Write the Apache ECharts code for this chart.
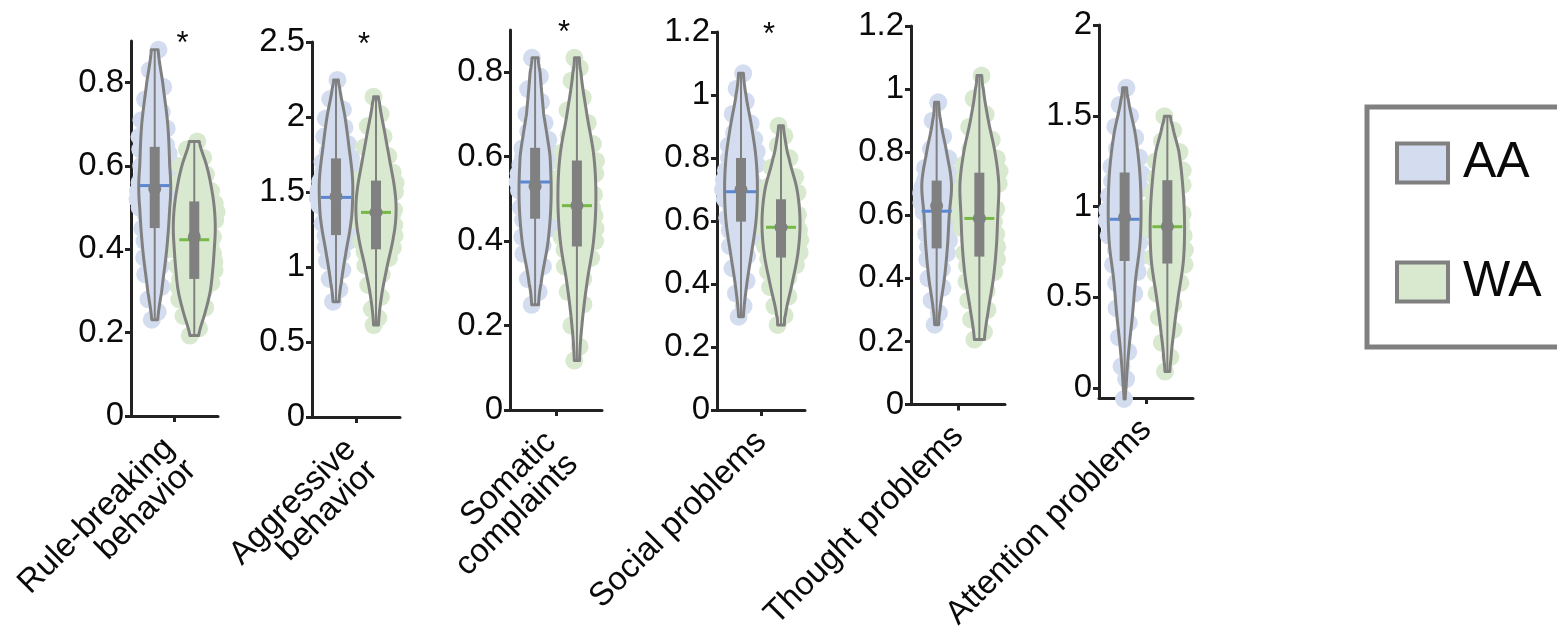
<!DOCTYPE html>
<html><head><meta charset="utf-8">
<script src="https://cdn.jsdelivr.net/npm/echarts@6/dist/echarts.min.js"></script>
<style>html,body{margin:0;padding:0;background:#fff}#c{width:1557px;height:633px}</style>
</head><body><div id="c"></div>
<script>
// ---------------- DATA ----------------
const categories = ['Rule-breaking\nbehavior','Aggressive\nbehavior','Somatic\ncomplaints','Social problems','Thought problems','Attention problems'];
const groups = ['AA','WA'];
const significant = [true,true,true,true,false,false];
const yMinVals = [0,0,0,0,0,-0.055];
const yMaxVals = [0.9,2.5,0.9,1.2,1.2,2];
const yTickLabels = [
  [0,0.2,0.4,0.6,0.8],
  [0,0.5,1,1.5,2,2.5],
  [0,0.2,0.4,0.6,0.8],
  [0,0.2,0.4,0.6,0.8,1,1.2],
  [0,0.2,0.4,0.6,0.8,1,1.2],
  [0,0.5,1,1.5,2]
];

const aaMin    = [0.231,0.769,0.249,0.296,0.253,-0.06];
const aaQ1     = [0.451,1.213,0.453,0.598,0.495,0.70];
const aaMedian = [0.553,1.464,0.540,0.693,0.613,0.930];
const aaQ3     = [0.646,1.724,0.621,0.800,0.710,1.188];
const aaMax    = [0.879,2.247,0.834,1.069,0.958,1.654];
const aaMean   = [0.545,1.470,0.530,0.700,0.630,0.940];

const waMin    = [0.193,0.613,0.117,0.270,0.206,0.091];
const waQ1     = [0.329,1.118,0.387,0.484,0.469,0.686];
const waMedian = [0.423,1.364,0.484,0.580,0.590,0.889];
const waQ3     = [0.515,1.576,0.591,0.669,0.735,1.145];
const waMax    = [0.659,2.135,0.834,0.902,1.043,1.498];
const waMean   = [0.430,1.365,0.484,0.580,0.590,0.890];

// relative kernel density profiles [value, density]
const aaDensity = [
  [[0.231,0.15],[0.3,0.35],[0.4,0.6],[0.5,0.75],[0.55,0.8],[0.6,0.75],[0.7,0.65],[0.8,0.4],[0.879,0.17]],
  [[0.769,0.15],[0.9,0.27],[1.1,0.5],[1.3,0.75],[1.45,0.83],[1.6,0.82],[1.8,0.65],[2.0,0.45],[2.2,0.18],[2.247,0.12]],
  [[0.249,0.17],[0.3,0.3],[0.4,0.65],[0.5,0.8],[0.6,0.75],[0.65,0.6],[0.7,0.43],[0.8,0.25],[0.834,0.15]],
  [[0.296,0.12],[0.4,0.29],[0.5,0.53],[0.6,0.75],[0.7,0.82],[0.8,0.75],[0.9,0.53],[1.0,0.25],[1.069,0.12]],
  [[0.253,0.1],[0.3,0.17],[0.4,0.39],[0.5,0.54],[0.6,0.63],[0.7,0.74],[0.8,0.5],[0.9,0.2],[0.958,0.1]],
  [[-0.06,0.03],[0,0.07],[0.2,0.2],[0.4,0.39],[0.6,0.55],[0.8,0.77],[1.0,0.82],[1.2,0.75],[1.4,0.53],[1.6,0.17],[1.654,0.1]]
];
const waDensity = [
  [[0.193,0.22],[0.25,0.55],[0.3,0.8],[0.35,0.92],[0.4,1.0],[0.45,1.05],[0.5,1.0],[0.55,0.85],[0.6,0.62],[0.659,0.25]],
  [[0.613,0.12],[0.8,0.27],[1.0,0.55],[1.2,0.87],[1.35,1.0],[1.5,0.95],[1.7,0.7],[1.9,0.43],[2.1,0.17],[2.135,0.12]],
  [[0.117,0.13],[0.2,0.25],[0.3,0.5],[0.4,0.83],[0.5,0.95],[0.6,0.85],[0.7,0.5],[0.8,0.2],[0.834,0.12]],
  [[0.27,0.17],[0.3,0.22],[0.4,0.55],[0.5,0.85],[0.6,0.95],[0.7,0.8],[0.8,0.4],[0.85,0.23],[0.902,0.12]],
  [[0.206,0.25],[0.3,0.45],[0.4,0.7],[0.5,0.85],[0.6,0.92],[0.7,0.97],[0.8,0.78],[0.9,0.45],[1.0,0.2],[1.043,0.12]],
  [[0.091,0.12],[0.15,0.17],[0.3,0.31],[0.5,0.54],[0.7,0.8],[0.9,0.86],[1.1,0.78],[1.3,0.58],[1.45,0.25],[1.498,0.15]]
];

// individual subject scores
const aaPoints = [
  [0.231,0.25,0.28,0.31,0.34,0.36,0.38,0.40,0.42,0.44,0.45,0.46,0.48,0.49,0.50,0.51,0.52,0.53,0.54,0.55,0.56,0.57,0.58,0.59,0.60,0.61,0.62,0.63,0.64,0.65,0.67,0.69,0.71,0.73,0.76,0.79,0.83,0.879],
  [0.769,0.85,0.92,0.98,1.04,1.09,1.13,1.17,1.21,1.25,1.29,1.32,1.35,1.38,1.41,1.44,1.46,1.48,1.51,1.54,1.57,1.60,1.63,1.66,1.70,1.73,1.77,1.82,1.87,1.93,1.99,2.05,2.12,2.247],
  [0.249,0.28,0.31,0.34,0.37,0.39,0.41,0.43,0.45,0.46,0.48,0.49,0.50,0.51,0.52,0.53,0.54,0.55,0.56,0.57,0.58,0.59,0.60,0.61,0.62,0.64,0.66,0.68,0.70,0.73,0.76,0.79,0.834],
  [0.296,0.33,0.37,0.41,0.45,0.49,0.52,0.55,0.57,0.59,0.61,0.63,0.64,0.66,0.67,0.69,0.70,0.71,0.73,0.74,0.76,0.78,0.80,0.82,0.84,0.86,0.88,0.91,0.94,0.98,1.02,1.069],
  [0.253,0.29,0.33,0.37,0.40,0.43,0.46,0.48,0.50,0.52,0.54,0.56,0.58,0.60,0.61,0.63,0.64,0.66,0.67,0.68,0.69,0.70,0.71,0.73,0.75,0.78,0.81,0.85,0.90,0.958],
  [-0.06,0.05,0.12,0.20,0.28,0.36,0.44,0.52,0.58,0.64,0.68,0.72,0.76,0.80,0.84,0.88,0.92,0.95,0.98,1.02,1.06,1.10,1.14,1.18,1.22,1.27,1.32,1.38,1.44,1.50,1.56,1.654]
];
const waPoints = [
  [0.193,0.21,0.24,0.26,0.28,0.30,0.31,0.32,0.33,0.35,0.36,0.37,0.38,0.39,0.40,0.41,0.42,0.43,0.44,0.45,0.46,0.47,0.48,0.49,0.50,0.51,0.52,0.54,0.56,0.58,0.60,0.62,0.64,0.659],
  [0.613,0.66,0.72,0.80,0.88,0.95,1.01,1.06,1.10,1.13,1.17,1.21,1.25,1.28,1.31,1.34,1.36,1.38,1.41,1.44,1.47,1.50,1.53,1.56,1.59,1.63,1.68,1.74,1.80,1.87,1.94,2.02,2.135],
  [0.117,0.15,0.20,0.25,0.28,0.31,0.34,0.36,0.38,0.40,0.41,0.43,0.44,0.46,0.47,0.48,0.49,0.51,0.52,0.54,0.55,0.56,0.58,0.59,0.61,0.63,0.65,0.68,0.71,0.74,0.78,0.81,0.834],
  [0.27,0.30,0.33,0.36,0.39,0.42,0.44,0.46,0.48,0.50,0.52,0.54,0.55,0.57,0.58,0.59,0.61,0.62,0.64,0.65,0.67,0.69,0.71,0.74,0.77,0.80,0.84,0.87,0.902],
  [0.206,0.23,0.27,0.30,0.33,0.36,0.39,0.42,0.44,0.46,0.48,0.50,0.52,0.54,0.56,0.58,0.60,0.62,0.64,0.66,0.68,0.70,0.72,0.74,0.76,0.78,0.81,0.84,0.88,0.92,0.97,1.043],
  [0.091,0.17,0.25,0.32,0.39,0.46,0.52,0.58,0.63,0.68,0.72,0.76,0.80,0.84,0.87,0.90,0.93,0.96,1.00,1.04,1.08,1.12,1.16,1.20,1.25,1.30,1.36,1.42,1.498]
];

// ---------------- LAYOUT / STYLE ----------------
const FONT = '"Liberation Sans", Arial, Helvetica, sans-serif';
const TEXT = '#0a0a0a';
const LAYOUT = [
  {left:131, top:41, width:87, height:375},
  {left:312, top:42, width:88, height:375},
  {left:510, top:30, width:92, height:380},
  {left:717, top:32, width:88, height:378},
  {left:911, top:26, width:94, height:383},
  {left:1099, top:25, width:94, height:382}
];
const GROUP_POS = [1, 2];
const LIGHT = ['#d3ddef', '#d9e9cf'];
const MEDIAN_COLOR = ['#5b87cf', '#76b947'];
const GREY = '#808080';
const AXIS = '#222222';
const HW_SCALE = 20;           // px per density unit
const JITTER = [1.0, 0.8, 1.1, 0.9, 1.05, 0.6, 0.95];

function densityAt(prof, v) {
  if (v <= prof[0][0]) return prof[0][1];
  const n = prof.length;
  if (v >= prof[n-1][0]) return prof[n-1][1];
  let i = 0;
  while (i < n - 2 && v > prof[i+1][0]) i++;
  const p0 = prof[Math.max(i-1,0)][1], p1 = prof[i][1], p2 = prof[i+1][1], p3 = prof[Math.min(i+2,n-1)][1];
  const t = (v - prof[i][0]) / (prof[i+1][0] - prof[i][0]);
  const t2 = t*t, t3 = t2*t;
  const r = 0.5*((2*p1) + (-p0+p2)*t + (2*p0-5*p1+4*p2-p3)*t2 + (-p0+3*p1-3*p2+p3)*t3);
  return Math.max(r, 0.02);
}

const stats = [
  {min:aaMin, q1:aaQ1, med:aaMedian, q3:aaQ3, max:aaMax, mean:aaMean, dens:aaDensity, pts:aaPoints},
  {min:waMin, q1:waQ1, med:waMedian, q3:waQ3, max:waMax, mean:waMean, dens:waDensity, pts:waPoints}
];

const grid = [], xAxis = [], yAxis = [], series = [];
categories.forEach((cat, i) => {
  const L = LAYOUT[i];
  const twoLine = cat.indexOf('\n') >= 0;
  grid.push({left:L.left, top:L.top, width:L.width, height:L.height, containLabel:false});
  xAxis.push({
    type:'value', gridIndex:i, min:0.4, max:2.6,
    axisLine:{show:true, onZero:false, lineStyle:{color:AXIS, width:3}},
    axisTick:{show:true, customValues:[1.5], length:6, lineStyle:{color:AXIS, width:3}},
    axisLabel:{show:true, customValues:[1.5], formatter:() => cat, rotate:45, align:'right', verticalAlign:'top',
      margin: twoLine ? 0 : 5, padding: twoLine ? [0,23,0,0] : [0,15,0,0],
      fontSize:33, lineHeight:31, color:TEXT, fontFamily:FONT},
    splitLine:{show:false}
  });
  yAxis.push({
    type:'value', gridIndex:i, min:yMinVals[i], max:yMaxVals[i],
    axisLine:{show:true, onZero:false, lineStyle:{color:AXIS, width:3}},
    axisTick:{show:true, customValues:yTickLabels[i], length:6, lineStyle:{color:AXIS, width:3}},
    axisLabel:{show:true, customValues:yTickLabels[i], fontSize:33, margin:7, color:TEXT, fontFamily:FONT},
    splitLine:{show:false}
  });

  groups.forEach((gname, g) => {
    const s = stats[g];
    const pos = GROUP_POS[g];
    const prof = s.dens[i];
    // individual points
    series.push({
      type:'custom', name:gname, xAxisIndex:i, yAxisIndex:i, clip:false, z:1, silent:true,
      itemStyle:{color:LIGHT[g]},
      data: s.pts[i].map(v => [pos, v]),
      renderItem(params, api) {
        const v = api.value(1);
        const c = api.coord([pos, v]);
        const idx = params.dataIndex;
        const hw = densityAt(prof, v) * HW_SCALE;
        const sign = idx % 2 === 0 ? -1 : 1;
        const mag = JITTER[idx % JITTER.length];
        return {type:'circle', shape:{cx:c[0] + sign*mag*hw, cy:c[1], r:9}, style:{fill:LIGHT[g]}};
      }
    });
    // violin + box
    series.push({
      type:'custom', name:gname, xAxisIndex:i, yAxisIndex:i, clip:false, z:2, silent:true,
      itemStyle:{color:LIGHT[g]},
      data: [[pos, s.med[i]]],
      renderItem(params, api) {
        const vmin = s.min[i], vmax = s.max[i];
        const N = 80;
        const left = [], right = [];
        for (let k = 0; k <= N; k++) {
          const v = vmin + (vmax - vmin) * k / N;
          const c = api.coord([pos, v]);
          const hw = densityAt(prof, v) * HW_SCALE;
          left.push([c[0] - hw, c[1]]);
          right.push([c[0] + hw, c[1]]);
        }
        const poly = left.concat(right.reverse());
        const cMin = api.coord([pos, vmin]), cMax = api.coord([pos, vmax]);
        const cQ1 = api.coord([pos, s.q1[i]]), cQ3 = api.coord([pos, s.q3[i]]);
        const cMed = api.coord([pos, s.med[i]]), cMean = api.coord([pos, s.mean[i]]);
        const cx = cMed[0];
        return {type:'group', children:[
          {type:'polygon', shape:{points:poly}, style:{fill:LIGHT[g], stroke:GREY, lineWidth:3, lineJoin:'round'}},
          {type:'line', shape:{x1:cx, y1:cMin[1], x2:cx, y2:cMax[1]}, style:{stroke:GREY, lineWidth:2}},
          {type:'line', shape:{x1:cx-15, y1:cMed[1], x2:cx+15, y2:cMed[1]}, style:{stroke:MEDIAN_COLOR[g], lineWidth:3}},
          {type:'rect', shape:{x:cx-5, y:cQ3[1], width:10, height:cQ1[1]-cQ3[1]}, style:{fill:GREY}},
          {type:'circle', shape:{cx:cx, cy:cMean[1], r:6.5}, style:{fill:GREY}}
        ]};
      }
    });
  });

  if (significant[i]) {
    series.push({
      type:'custom', name:'sig', xAxisIndex:i, yAxisIndex:i, clip:false, z:3, silent:true,
      data:[[1.5, yMaxVals[i]]],
      renderItem(params, api) {
        const c = api.coord([1.5, yMaxVals[i]]);
        return {type:'text', style:{text:'*', x:c[0]+8, y:c[1]+3, fontSize:31, fontFamily:FONT, fill:TEXT,
          align:'center', verticalAlign:'middle'}};
      }
    });
  }
});

const chart = echarts.init(document.getElementById('c'), null, {renderer:'canvas'});
chart.setOption({
  animation:false,
  textStyle:{fontFamily:FONT},
  grid, xAxis, yAxis, series,
  legend:{
    left:1367, top:107, orient:'vertical', selectedMode:false,
    icon:'rect', itemWidth:51, itemHeight:39, itemGap:69,
    padding:[31,80,40,28],
    borderColor:GREY, borderWidth:5,
    textStyle:{fontSize:50, lineHeight:50, color:TEXT, fontFamily:FONT, padding:[0,0,0,10]},
    data:[
      {name:'AA', itemStyle:{color:LIGHT[0], borderColor:GREY, borderWidth:4}},
      {name:'WA', itemStyle:{color:LIGHT[1], borderColor:GREY, borderWidth:4}}
    ]
  }
});
</script>
</body></html>
